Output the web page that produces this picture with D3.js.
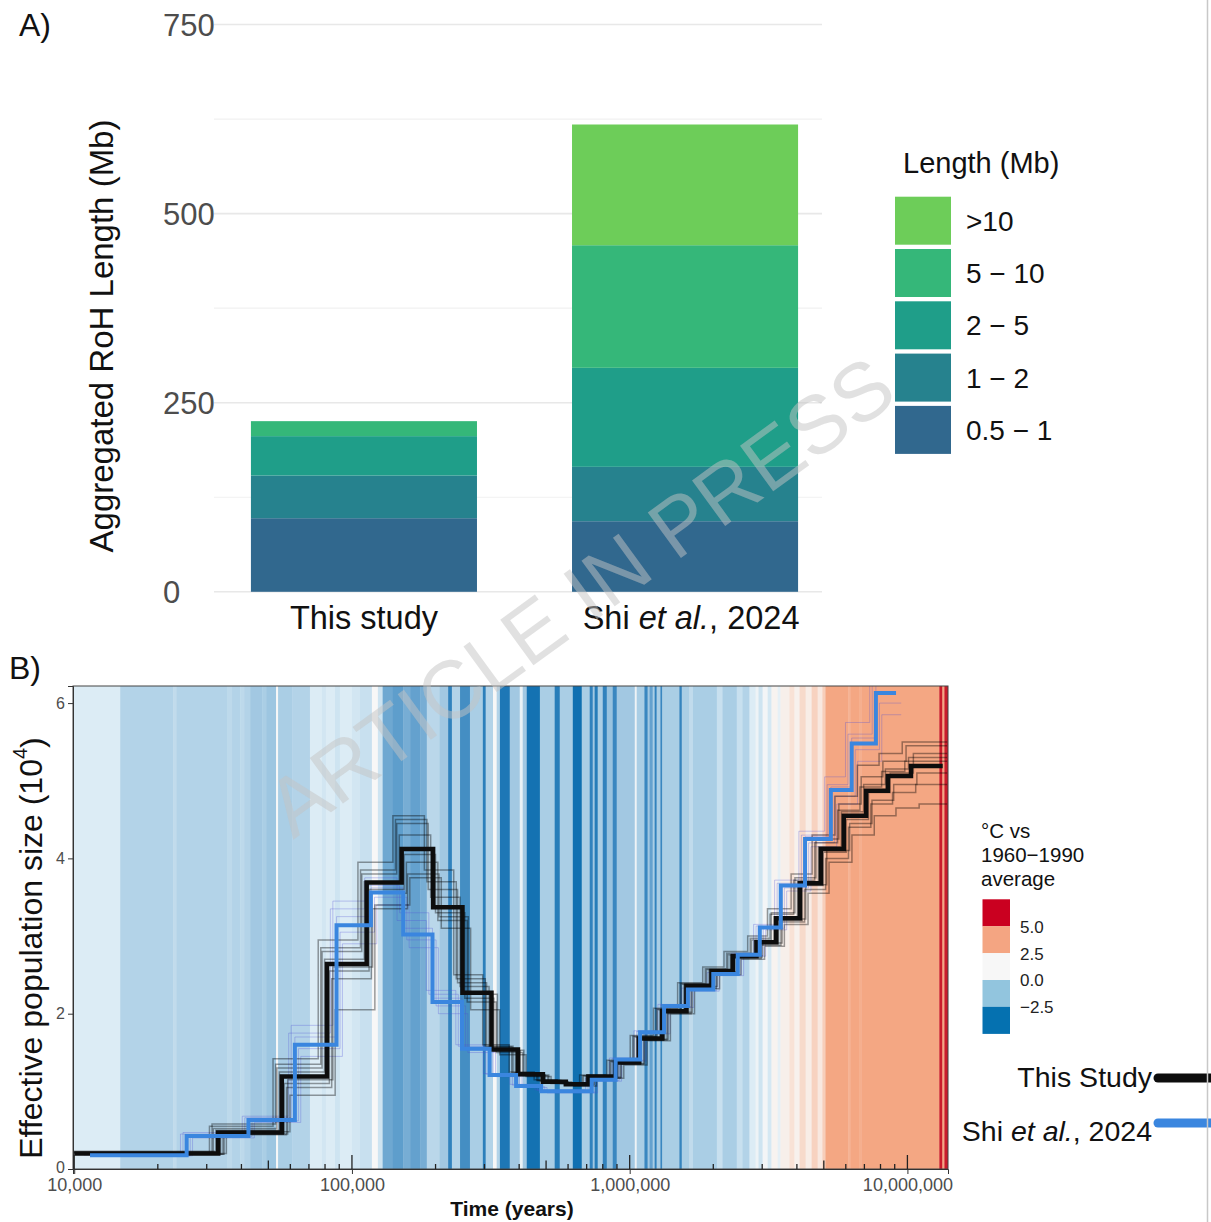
<!DOCTYPE html>
<html>
<head>
<meta charset="utf-8">
<script src="https://cdn.jsdelivr.net/npm/d3@7"></script>
<style>
  body { margin: 0; background: #fff; }
  svg { display: block; font-family: "Liberation Sans", Arial, Helvetica, sans-serif; }
</style>
</head>
<body>
<svg id="chart" width="1211" height="1222"></svg>
<script>
// ---------- panel A : aggregated RoH ----------
const rohGroups = ["This study", "Shi"];
const rohClasses = ["0.5 \u2212 1", "1 \u2212 2", "2 \u2212 5", "5 \u2212 10", ">10"];
const rohThisStudy = [97.3, 56.5, 52.0, 19.8, 0];
const rohShi = [93.3, 71.9, 130.9, 162.1, 159.6];
const rohColours = ["#31688E", "#26828E", "#1F9E89", "#35B779", "#6DCD59"];
const rohTicks = [0, 250, 500, 750];
const rohMinor = [125, 375, 625];

// ---------- panel B : PSMC ----------
const xTicks = [1e4, 1e5, 1e6, 1e7];
const yTicks = [0, 2, 4, 6];

// climate stripes: start year of each stripe and its anomaly (deg C)
const stripeStart = [9920, 14640, 22700, 23300, 35500, 37000, 39600, 40900, 43000, 47500, 49100, 53300, 54200, 60900, 70600, 78000, 80600, 86900, 90500, 100000, 106900, 118000, 124000, 129000, 140000, 153000, 162000, 176000, 186000, 207000, 222000, 229000, 245000, 266000, 296000, 303000, 322000, 332000, 341000, 370000, 402000, 412000, 426000, 475000, 537000, 560000, 624000, 672000, 718000, 736000, 748000, 767000, 800000, 827000, 869000, 898000, 1043000, 1060000, 1130000, 1160000, 1180000, 1210000, 1230000, 1250000, 1290000, 1310000, 1510000, 1540000, 1640000, 1690000, 2060000, 2160000, 2430000, 2550000, 2700000, 2840000, 2910000, 3010000, 3140000, 3240000, 3410000, 3490000, 3760000, 3920000, 4090000, 4300000, 4520000, 4750000, 4940000, 5070000, 6130000, 6240000, 6720000, 6830000, 13030000, 13360000, 13590000];
const stripeTemp = [-0.6, -1.2, -1.0, -1.2, -1.05, -1.2, -1.05, -1.2, -1.4, -1.3, -1.45, 0, -1.3, -1.2, -0.6, -0.75, -0.6, -0.8, -0.6, -0.75, -0.9, 0, -0.8, -2.0, -2.3, -1.9, -2.2, -1.9, -1.1, -1.4, -3.2, -1.2, -2.8, -1.3, -3.3, -1.2, 0, -1.2, -3.6, -1.4, -0.3, -1.4, -3.8, -1.3, -3.4, -1.3, -3.9, -1.3, -3.2, -1.4, -3.4, -1.3, -3.2, -1.5, -3.0, -1.4, -0.2, -1.3, -3.0, -1.4, -2.2, -1.3, -3.2, -1.3, -3.0, -1.3, -3.1, -1.3, -1.0, -1.3, -0.9, -1.3, -0.9, -1.2, -0.6, -0.2, -0.8, -0.1, -0.7, 0.2, -0.4, 0.4, 1.0, 0.3, 1.2, 0.5, 1.4, 0.7, 1.5, 3.5, 2.2, 3.5, 2.3, 3.5, 5.6, 4.5, 5.8];
const stripeEnd = 14000000;

// legend bins for the stripes
const tempLegendColours = ["#CA0020", "#F4A582", "#F7F7F7", "#92C5DE", "#0571B0"];
const tempLegendLabels = ["5.0", "2.5", "0.0", "\u22122.5"];

// This study (black)
const blackTime = [10000, 33000, 55900, 81300, 113000, 151000, 196000, 250000, 318000, 396000, 487000, 589000, 710000, 890000, 1080000, 1310000, 1600000, 1970000, 2350000, 2860000, 3370000, 4100000, 4880000, 5900000, 7100000, 8500000, 10300000];
const blackNe = [0.20, 0.47, 1.19, 2.64, 3.69, 4.12, 3.37, 2.27, 1.54, 1.22, 1.125, 1.09, 1.19, 1.37, 1.68, 2.03, 2.36, 2.55, 2.74, 2.92, 3.23, 3.68, 4.12, 4.55, 4.87, 5.06, 5.19];
const blackEnd = 13400000;
const blackBootScale = [0.96, 1.04, 0.93, 1.07, 0.98, 1.02, 0.95, 1.05];
const blackBoot1 = [0.22, 0.52, 1.30, 2.80, 3.80, 4.45, 3.60, 2.40, 1.58, 1.24, 1.14, 1.10, 1.20, 1.38, 1.70, 2.05, 2.38, 2.57, 2.76, 2.95, 3.30, 3.75, 4.25, 4.70, 5.05, 5.25, 5.45];
const blackBoot2 = [0.19, 0.44, 1.05, 2.45, 3.55, 3.95, 3.20, 2.15, 1.50, 1.20, 1.11, 1.08, 1.17, 1.35, 1.66, 2.00, 2.33, 2.52, 2.71, 2.88, 3.18, 3.60, 4.00, 4.40, 4.70, 4.85, 4.95];
const blackBoot3 = [0.21, 0.55, 1.42, 2.95, 3.95, 4.55, 3.85, 2.50, 1.60, 1.25, 1.15, 1.11, 1.21, 1.40, 1.72, 2.07, 2.40, 2.60, 2.80, 3.00, 3.35, 3.80, 4.30, 4.80, 5.20, 5.35, 5.50];
const blackBoot4 = [0.20, 0.48, 0.95, 2.05, 3.40, 3.75, 3.10, 2.05, 1.47, 1.19, 1.10, 1.07, 1.17, 1.34, 1.65, 2.00, 2.32, 2.50, 2.70, 2.87, 3.15, 3.55, 3.95, 4.30, 4.55, 4.65, 4.70];
const blackBoot5 = [0.23, 0.50, 1.25, 2.70, 3.70, 4.30, 3.50, 2.35, 1.55, 1.23, 1.13, 1.10, 1.19, 1.37, 1.69, 2.04, 2.37, 2.56, 2.75, 2.93, 3.25, 3.70, 4.15, 4.60, 4.95, 5.15, 5.30];
const blackBoot6 = [0.20, 0.46, 1.10, 2.55, 3.60, 4.05, 3.30, 2.20, 1.52, 1.21, 1.12, 1.08, 1.18, 1.36, 1.67, 2.02, 2.35, 2.54, 2.73, 2.90, 3.20, 3.65, 4.08, 4.50, 4.85, 5.10, 5.35];
const blackBoot7 = [0.21, 0.58, 1.35, 2.85, 3.85, 4.50, 3.70, 2.45, 1.57, 1.23, 1.14, 1.10, 1.20, 1.39, 1.71, 2.06, 2.39, 2.58, 2.78, 2.97, 3.28, 3.72, 4.20, 4.62, 4.92, 5.12, 5.25];
const blackBoot8 = [0.19, 0.45, 1.15, 2.60, 3.35, 3.80, 3.25, 2.25, 1.53, 1.21, 1.12, 1.09, 1.18, 1.36, 1.67, 2.02, 2.35, 2.54, 2.73, 2.91, 3.22, 3.66, 4.10, 4.45, 4.75, 4.95, 5.10];
const blackBootEnd = 13900000;

// Shi et al., 2024 (blue)
const blueTime = [11400, 25400, 42400, 62300, 88000, 117000, 153000, 195000, 249000, 313000, 390000, 480000, 730000, 890000, 1090000, 1330000, 1620000, 2000000, 2450000, 2940000, 3500000, 4280000, 5300000, 6300000, 7700000];
const blueNe = [0.176, 0.425, 0.63, 1.6, 3.14, 3.56, 3.02, 2.15, 1.55, 1.21, 1.07, 1.0, 1.15, 1.41, 1.76, 2.10, 2.31, 2.51, 2.76, 3.11, 3.65, 4.25, 4.88, 5.48, 6.13];
const blueEnd = 9100000;
const blueBootScale = [0.95, 1.05, 0.97, 1.03, 1.0];
const blueBoot1 = [0.18, 0.45, 0.68, 1.75, 3.35, 3.75, 3.20, 2.30, 1.60, 1.23, 1.09, 1.02, 1.17, 1.43, 1.78, 2.12, 2.33, 2.53, 2.78, 3.15, 3.72, 4.35, 5.05, 5.75, 6.40];
const blueBoot2 = [0.17, 0.40, 0.60, 1.45, 2.90, 3.40, 2.85, 2.00, 1.50, 1.19, 1.05, 0.98, 1.13, 1.39, 1.74, 2.08, 2.29, 2.49, 2.74, 3.08, 3.58, 4.15, 4.70, 5.25, 5.85];
const blueBoot3 = [0.19, 0.47, 0.66, 1.85, 3.45, 3.65, 3.30, 2.25, 1.58, 1.22, 1.08, 1.01, 1.16, 1.42, 1.77, 2.11, 2.32, 2.52, 2.77, 3.13, 3.68, 4.30, 4.95, 5.60, 6.30];
const blueBoot4 = [0.17, 0.42, 0.62, 1.55, 3.05, 3.50, 2.95, 2.10, 1.53, 1.20, 1.06, 0.99, 1.14, 1.40, 1.75, 2.09, 2.30, 2.50, 2.75, 3.10, 3.62, 4.20, 4.80, 5.40, 6.00];
const blueBoot5 = [0.18, 0.44, 0.65, 1.70, 3.25, 3.62, 3.10, 2.20, 1.56, 1.22, 1.08, 1.00, 1.15, 1.41, 1.76, 2.10, 2.31, 2.51, 2.76, 3.12, 3.66, 4.28, 4.92, 5.55, 6.25];
const blueBootEnd = 9500000;

const svg = d3.select("#chart");

// ================= Panel A =================
const yA = d3.scaleLinear().domain([0, 750]).range([591.8, 24.5]);
const xA = d3.scaleBand().domain(rohGroups).range([214, 835]).paddingInner(0.296).paddingOuter(0.115);
const gA = svg.append("g");

gA.selectAll("line.minor").data(rohMinor).join("line")
  .attr("x1", 214).attr("x2", 822)
  .attr("y1", d => yA(d)).attr("y2", d => yA(d))
  .attr("stroke", "#f1f1f1").attr("stroke-width", 1.2);
gA.selectAll("line.major").data(rohTicks).join("line")
  .attr("x1", 214).attr("x2", 822)
  .attr("y1", d => yA(d)).attr("y2", d => yA(d))
  .attr("stroke", "#e8e8e8").attr("stroke-width", 1.6);

gA.selectAll("text.ytick").data(rohTicks).join("text")
  .attr("x", 163).attr("y", d => yA(d)).attr("dy", "0.36em")
  .attr("font-size", 31).attr("fill", "#4d4d4d")
  .text(d => d);

const rohRows = rohGroups.map((g, i) => {
  const row = { group: g };
  rohClasses.forEach((c, j) => { row[c] = (i === 0 ? rohThisStudy : rohShi)[j]; });
  return row;
});
const rohSeries = d3.stack().keys(rohClasses)(rohRows);

gA.selectAll("g.layer").data(rohSeries).join("g")
  .attr("fill", (d, i) => rohColours[i])
  .selectAll("rect").data(d => d).join("rect")
  .attr("x", d => xA(d.data.group))
  .attr("width", xA.bandwidth())
  .attr("y", d => yA(d[1]))
  .attr("height", d => yA(d[0]) - yA(d[1]));

// x labels
gA.append("text")
  .attr("x", xA("This study") + xA.bandwidth() / 2).attr("y", 629)
  .attr("text-anchor", "middle").attr("font-size", 32.5).attr("fill", "#111")
  .text("This study");
const shiLab = gA.append("text")
  .attr("x", xA("Shi") + xA.bandwidth() / 2 + 6).attr("y", 629)
  .attr("text-anchor", "middle").attr("font-size", 32.5).attr("fill", "#111");
shiLab.append("tspan").text("Shi ");
shiLab.append("tspan").attr("font-style", "italic").text("et al.");
shiLab.append("tspan").text(", 2024");

gA.append("text")
  .attr("transform", "translate(101,336) rotate(-90)")
  .attr("text-anchor", "middle").attr("dy", "0.35em")
  .attr("font-size", 33).attr("fill", "#111")
  .text("Aggregated RoH Length (Mb)");

svg.append("text").attr("x", 19).attr("y", 36).attr("font-size", 32).attr("fill", "#111").text("A)");

// legend A
const legA = svg.append("g");
legA.append("text").attr("x", 903).attr("y", 173).attr("font-size", 29).attr("fill", "#111").text("Length (Mb)");
const legOrder = rohClasses.map((c, i) => i).reverse();
legOrder.forEach((ci, k) => {
  const ky = 196.7 + k * 52.3;
  legA.append("rect").attr("x", 895).attr("y", ky).attr("width", 56).attr("height", 48)
    .attr("fill", rohColours[ci]);
  legA.append("text").attr("x", 966).attr("y", ky + 24).attr("dy", "0.36em")
    .attr("font-size", 28).attr("fill", "#111").text(rohClasses[ci]);
});

// ================= Panel B =================
const x = d3.scaleLog().domain([9900, 14000000]).range([73, 948]);
const y = d3.scaleLinear().domain([0, 6.22]).range([1169, 686]);

svg.append("clipPath").attr("id", "plotB")
  .append("rect").attr("x", 73).attr("y", 686).attr("width", 875).attr("height", 483);

const stripeColour = d3.scaleLinear()
  .domain([-4, -3, -2, -1.2, -0.6, 0, 1, 2.5, 4.9, 5.5])
  .range(["#0b6daf", "#3a87c0", "#6ea8d1", "#b3d3e8", "#dcecf5", "#f7f7f7", "#f8e2d6", "#f4a783", "#f4a783", "#ca1c2b"])
  .clamp(true);

const gB = svg.append("g").attr("clip-path", "url(#plotB)");

const stripes = stripeStart.map((s, i) => ({
  t0: s,
  t1: i < stripeStart.length - 1 ? stripeStart[i + 1] : stripeEnd,
  temp: stripeTemp[i]
}));
gB.append("g").selectAll("rect").data(stripes).join("rect")
  .attr("x", d => x(d.t0))
  .attr("width", d => Math.max(0.5, x(d.t1) - x(d.t0) + 0.4))
  .attr("y", 686).attr("height", 483)
  .attr("fill", d => stripeColour(d.temp));

function stepPoints(times, values, end, scale) {
  const k = scale || 1;
  const pts = times.map((t, i) => [t * k, values[i]]);
  pts.push([end, values[values.length - 1]]);
  return pts;
}
const stepLine = d3.line().curve(d3.curveStepAfter).x(d => x(d[0])).y(d => y(d[1]));

const blackBoots = [blackBoot1, blackBoot2, blackBoot3, blackBoot4, blackBoot5, blackBoot6, blackBoot7, blackBoot8];
const blueBoots = [blueBoot1, blueBoot2, blueBoot3, blueBoot4, blueBoot5];

gB.append("g").selectAll("path").data(blueBoots).join("path")
  .attr("d", (v, i) => stepLine(stepPoints(blueTime, v, blueBootEnd, blueBootScale[i])))
  .attr("fill", "none").attr("stroke", "rgba(80,80,215,0.3)").attr("stroke-width", 1);

gB.append("g").selectAll("path").data(blackBoots).join("path")
  .attr("d", (v, i) => stepLine(stepPoints(blackTime, v, blackBootEnd, blackBootScale[i])))
  .attr("fill", "none").attr("stroke", "rgba(0,0,0,0.38)").attr("stroke-width", 1.5);

gB.append("path")
  .attr("d", stepLine(stepPoints(blackTime, blackNe, blackEnd)))
  .attr("fill", "none").attr("stroke", "#0d0d0d").attr("stroke-width", 4.5);

gB.append("path")
  .attr("d", stepLine(stepPoints(blueTime, blueNe, blueEnd)))
  .attr("fill", "none").attr("stroke", "#3A86DF").attr("stroke-width", 4);

// border
svg.append("rect").attr("x", 73).attr("y", 686).attr("width", 875).attr("height", 483)
  .attr("fill", "none").attr("stroke", "#444").attr("stroke-width", 1);

// y axis
const yAxis = svg.append("g").attr("transform", "translate(73,0)")
  .call(d3.axisLeft(y).tickValues(yTicks).tickFormat(d3.format("d")).tickSize(5).tickPadding(3));
yAxis.select(".domain").attr("stroke", "#333");
yAxis.selectAll(".tick line").attr("stroke", "#333");
yAxis.selectAll("text").attr("font-size", 16).attr("fill", "#4d4d4d")
  .attr("font-family", '"Liberation Sans", Arial, sans-serif');
yAxis.selectAll(".tick").filter(d => d === 0).select("text").attr("dy", "0.2em");

// x axis
const xAxis = svg.append("g").attr("transform", "translate(0,1169)")
  .call(d3.axisBottom(x).tickValues(xTicks).tickFormat(d3.format(",")).tickSize(5).tickPadding(4));
xAxis.select(".domain").attr("stroke", "#333");
xAxis.selectAll(".tick line").attr("stroke", "#333");
xAxis.selectAll("text").attr("font-size", 18).attr("fill", "#4d4d4d")
  .attr("font-family", '"Liberation Sans", Arial, sans-serif');

// log ticks inside the panel
const logTicks = [];
xTicks.forEach(p => {
  for (let m = 1; m <= 9; m++) {
    const t = m * p;
    if (t <= x.domain()[1]) logTicks.push({ t: t, len: m === 1 ? 14 : (m === 5 ? 8.5 : 5) });
  }
});
svg.append("g").selectAll("line").data(logTicks).join("line")
  .attr("x1", d => x(d.t)).attr("x2", d => x(d.t))
  .attr("y1", 1169).attr("y2", d => 1169 - d.len)
  .attr("stroke", "#222").attr("stroke-width", 1.3);

svg.append("text")
  .attr("x", 512).attr("y", 1216).attr("text-anchor", "middle")
  .attr("font-size", 21).attr("font-weight", "bold").attr("fill", "#111")
  .text("Time (years)");

const yTitle = svg.append("text")
  .attr("transform", "translate(31,948) rotate(-90)")
  .attr("text-anchor", "middle").attr("dy", "0.35em")
  .attr("font-size", 32).attr("fill", "#111");
yTitle.append("tspan").text("Effective population size (10");
yTitle.append("tspan").attr("font-size", 20).attr("dy", "-0.75em").text("4");
yTitle.append("tspan").attr("dy", "0.5em").text(")");

svg.append("text").attr("x", 9).attr("y", 679).attr("font-size", 32).attr("fill", "#111").text("B)");

// temperature legend
const legB = svg.append("g");
["\u00B0C vs", "1960\u22121990", "average"].forEach((s, i) => {
  legB.append("text").attr("x", 981).attr("y", 838 + i * 24)
    .attr("font-size", 20.5).attr("fill", "#111").text(s);
});
tempLegendColours.forEach((c, i) => {
  legB.append("rect").attr("x", 982.5).attr("y", 899.3 + i * 26.9)
    .attr("width", 27.5).attr("height", 27).attr("fill", c);
});
tempLegendLabels.forEach((s, i) => {
  legB.append("text").attr("x", 1020).attr("y", 926.5 + i * 26.9).attr("dy", "0.36em")
    .attr("font-size", 17).attr("fill", "#222").text(s);
});

// line legend
const legL = svg.append("g");
legL.append("text").attr("x", 1152).attr("y", 1087).attr("text-anchor", "end")
  .attr("font-size", 28.5).attr("fill", "#111").text("This Study");
legL.append("line").attr("x1", 1158).attr("x2", 1215).attr("y1", 1078).attr("y2", 1078)
  .attr("stroke", "#0d0d0d").attr("stroke-width", 9).attr("stroke-linecap", "round");
const shiLeg = legL.append("text").attr("x", 1152).attr("y", 1141).attr("text-anchor", "end")
  .attr("font-size", 28.5).attr("fill", "#111");
shiLeg.append("tspan").text("Shi ");
shiLeg.append("tspan").attr("font-style", "italic").text("et al.");
shiLeg.append("tspan").text(", 2024");
legL.append("line").attr("x1", 1158).attr("x2", 1215).attr("y1", 1123).attr("y2", 1123)
  .attr("stroke", "#3A86DF").attr("stroke-width", 9).attr("stroke-linecap", "round");

// right edge rule
svg.append("line").attr("x1", 1207.5).attr("x2", 1207.5).attr("y1", 0).attr("y2", 1222)
  .attr("stroke", "#c8c8c8").attr("stroke-width", 1.5);

// watermark
svg.append("text")
  .attr("transform", "translate(580,596) rotate(-36)")
  .attr("text-anchor", "middle").attr("dy", "0.35em")
  .attr("font-size", 82).attr("fill", "rgb(195,195,195)").attr("fill-opacity", 0.5)
  .text("ARTICLE IN PRESS");
</script>
</body>
</html>
